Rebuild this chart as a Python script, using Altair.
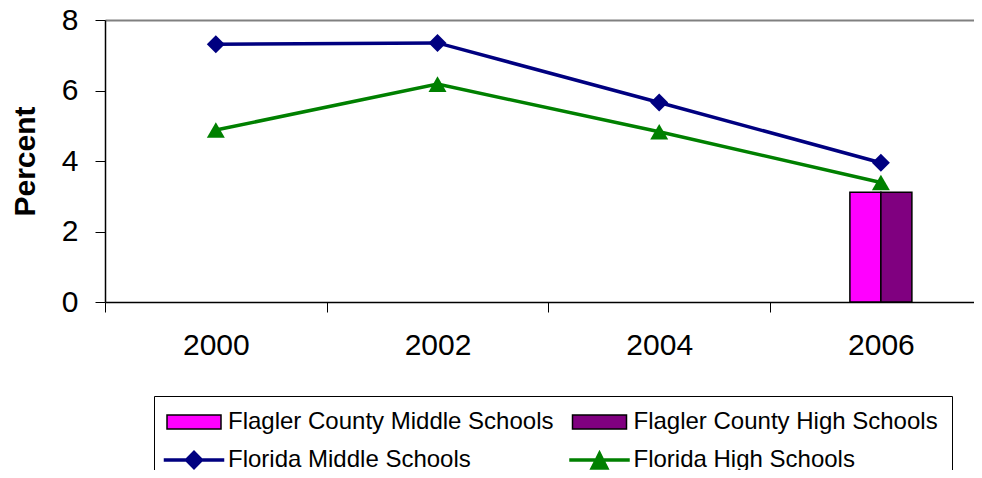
import altair as alt
import pandas as pd

# ---- data ----
years = [2000, 2002, 2004, 2006]
florida_middle = [7.31, 7.35, 5.66, 3.95]
florida_high = [4.88, 6.18, 4.83, 3.39]
flagler_middle = [None, None, None, 3.11]
flagler_high = [None, None, None, 3.11]

series_names = [
    "Flagler County Middle Schools",
    "Flagler County High Schools",
    "Florida Middle Schools",
    "Florida High Schools",
]
series_values = [flagler_middle, flagler_high, florida_middle, florida_high]

y_ticks = [0, 2, 4, 6, 8]
x_boundaries = [1999, 2001, 2003, 2005]   # category separators on the x axis
x_domain = [1999, 2006.84]

# ---- styles ----
fill_colors = ["#FF00FF", "#800080", "#000080", "#008000"]
stroke_colors = ["#000000", "#000000", "#000080", "#008000"]
legend_paths = [
    "M-3.375,-0.875H3.375V0.875H-3.375Z",
    "M-3.375,-0.875H3.375V0.875H-3.375Z",
    "M-3.6875,-0.125H-0.981L0,-1.106L0.981,-0.125H3.6875V0.125H0.981L0,1.106L-0.981,0.125H-3.6875Z",
    "M-3.6875,-0.125H-0.471L0,-1.0625L0.471,-0.125H3.6875V0.125H0.597L1.106,1.1375H-1.106L-0.597,0.125H-3.6875Z",
]

rows = []
for name, vals in zip(series_names, series_values):
    for yr, v in zip(years, vals):
        if v is not None:
            rows.append({"year": yr, "series": name, "value": v})
df = pd.DataFrame(rows)

FONT = "Liberation Sans"

x_scale = alt.Scale(domain=x_domain, nice=False, zero=False, padding=0)

x_ticks_enc = alt.X(
    "year:Q",
    scale=x_scale,
    axis=alt.Axis(
        title=None,
        orient="bottom",
        values=x_boundaries,
        labels=False,
        tickSize=10,
        tickColor="#000000",
        tickWidth=1,
        domainColor="#000000",
        domainWidth=1.5,
        grid=False,
    ),
)
x_labels_enc = alt.X(
    "year:Q",
    scale=x_scale,
    axis=alt.Axis(
        title=None,
        orient="bottom",
        values=years,
        format="d",
        ticks=False,
        tickSize=0,
        domain=False,
        grid=False,
        labelFontSize=30,
        labelFont=FONT,
        labelColor="#000000",
        labelPadding=28,
    ),
)
y_enc = alt.Y(
    "value:Q",
    scale=alt.Scale(domain=[0, 8], nice=False, zero=True),
    axis=alt.Axis(
        title="Percent",
        titleFontSize=30,
        titleFont=FONT,
        titleFontWeight="bold",
        titleColor="#000000",
        titlePadding=21,
        values=y_ticks,
        labelFontSize=30,
        labelFont=FONT,
        labelColor="#000000",
        labelPadding=17,
        tickSize=10,
        tickColor="#000000",
        tickWidth=1,
        domainColor="#000000",
        domainWidth=1.5,
        grid=True,
        gridColor="#808080",
        gridWidth=2,
        gridOpacity={"condition": {"test": "datum.value === 8", "value": 1}, "value": 0},
    ),
)

base = alt.Chart(df)


def only(name):
    return alt.datum.series == name


bar_mid = base.transform_filter(only(series_names[0])).mark_bar(
    fill=fill_colors[0], stroke="#000000", strokeWidth=1.5, width=31, xOffset=-15.5
).encode(x=x_ticks_enc, y=y_enc)
bar_high = base.transform_filter(only(series_names[1])).mark_bar(
    fill=fill_colors[1], stroke="#000000", strokeWidth=1.5, width=31, xOffset=15.5
).encode(x=x_ticks_enc, y=y_enc)

line_mid = base.transform_filter(only(series_names[2])).mark_line(
    color=fill_colors[2], strokeWidth=3.5
).encode(x=x_ticks_enc, y=y_enc)
pts_mid = base.transform_filter(only(series_names[2])).mark_point(
    shape="diamond", size=324, filled=True, color=fill_colors[2], opacity=1
).encode(x=x_ticks_enc, y=y_enc)

line_high = base.transform_filter(only(series_names[3])).mark_line(
    color=fill_colors[3], strokeWidth=3.5
).encode(x=x_ticks_enc, y=y_enc)
pts_high = base.transform_filter(only(series_names[3])).mark_point(
    shape="triangle-up", size=324, filled=True, color=fill_colors[3], opacity=1
).encode(x=x_ticks_enc, y=y_enc)


def make_legend():
    return alt.Legend(
        title=None,
        orient="none",
        legendX=49,
        legendY=376,
        columns=2,
        direction="horizontal",
        columnPadding=12.5,
        rowPadding=14,
        padding=14,
        strokeColor="#000000",
        fillColor="#FFFFFF",
        cornerRadius=0,
        labelFont=FONT,
        labelFontSize=24,
        labelColor="#000000",
        labelOffset=22,
        labelLimit=600,
        symbolSize=256,
        symbolOffset=14,
        symbolStrokeWidth=1.5,
        symbolOpacity=1,
    )


legend_layer = base.mark_point(filled=True, opacity=0).encode(
    x=x_ticks_enc,
    y=y_enc,
    fill=alt.Fill("series:N", scale=alt.Scale(domain=series_names, range=fill_colors), legend=make_legend()),
    stroke=alt.Stroke("series:N", scale=alt.Scale(domain=series_names, range=stroke_colors), legend=make_legend()),
    shape=alt.Shape("series:N", scale=alt.Scale(domain=series_names, range=legend_paths), legend=make_legend()),
)

main = alt.layer(bar_mid, bar_high, line_mid, line_high, pts_mid, pts_high, legend_layer)
labels_layer = base.mark_point(opacity=0).encode(x=x_labels_enc, y=y_enc)

chart = alt.layer(main, labels_layer).resolve_axis(x="independent").properties(
    width=869,
    height=282,
    autosize=alt.AutoSizeParams(type="none"),
    padding={"left": 97, "top": 12, "right": 0, "bottom": 168},
    background="#FFFFFF",
).configure_view(stroke=None)

chart.save("out.html", embed_options={"renderer": "svg", "actions": False})
